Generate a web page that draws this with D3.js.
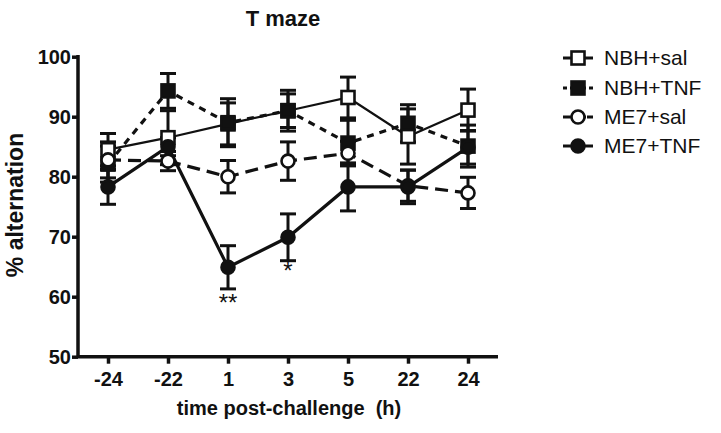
<!DOCTYPE html>
<html><head><meta charset="utf-8">
<script src="https://cdn.jsdelivr.net/npm/d3@7"></script>
<style>body{margin:0;background:#fff}svg{display:block}text{font-family:"Liberation Sans",Arial,sans-serif;fill:#111}</style>
</head><body><svg id="c" width="721" height="433"></svg>
<script>
const categories = ["-24","-22","1","3","5","22","24"];
const yTicks = [50,60,70,80,90,100];
const seriesNames = ["NBH+sal","NBH+TNF","ME7+sal","ME7+TNF"];
const nbhSal = [84.5, 86.5, 88.8, 91.0, 93.2, 86.7, 91.1];
const nbhSalErr = [2.7, 4.5, 3.5, 2.8, 3.4, 4.6, 3.5];
const nbhTnf = [82.1, 94.3, 89.0, 91.0, 85.6, 88.9, 85.1];
const nbhTnfErr = [3.0, 2.9, 4.0, 3.4, 3.8, 3.1, 3.5];
const me7Sal = [82.8, 82.6, 80.0, 82.6, 83.9, 78.5, 77.3];
const me7SalErr = [3.0, 1.6, 2.7, 3.2, 2.0, 2.6, 2.6];
const me7Tnf = [78.3, 85.0, 64.9, 69.9, 78.3, 78.3, 84.9];
const me7TnfErr = [2.9, 1.5, 3.6, 3.9, 4.0, 2.8, 2.8];
const annotations = [{cat:"1", text:"**", val:57.6},{cat:"3", text:"*", val:63.0}];

const svg = d3.select("#c");
const x = d3.scalePoint().domain(categories).range([78, 498]).padding(0.5);
const y = d3.scaleLinear().domain([50,100]).range([356.7, 56.7]);

const series = [
  {name:seriesNames[0], vals:nbhSal, err:nbhSalErr, shape:"square", fill:"#fff", dash:null, lw:2.2},
  {name:seriesNames[1], vals:nbhTnf, err:nbhTnfErr, shape:"square", fill:"#111", dash:"7,6", lw:3.2},
  {name:seriesNames[2], vals:me7Sal, err:me7SalErr, shape:"circle", fill:"#fff", dash:"13,7", lw:3.2},
  {name:seriesNames[3], vals:me7Tnf, err:me7TnfErr, shape:"circle", fill:"#111", dash:null, lw:3.2}
];

function drawMarker(g, shape, fill, cx, cy, size) {
  if (shape === "square") {
    g.append("rect").attr("x", cx-size/2).attr("y", cy-size/2).attr("width", size).attr("height", size)
      .attr("fill", fill).attr("stroke","#111").attr("stroke-width",2.6);
  } else {
    g.append("circle").attr("cx", cx).attr("cy", cy).attr("r", size/2)
      .attr("fill", fill).attr("stroke","#111").attr("stroke-width",2.6);
  }
}

series.forEach(s => {
  const g = svg.append("g");
  categories.forEach((c,i) => {
    const cx = x(c), hi = y(s.vals[i]+s.err[i]), lo = y(s.vals[i]-s.err[i]);
    g.append("line").attr("x1",cx).attr("x2",cx).attr("y1",hi).attr("y2",lo).attr("stroke","#111").attr("stroke-width",3);
    [hi,lo].forEach(yy => g.append("line").attr("x1",cx-8).attr("x2",cx+8).attr("y1",yy).attr("y2",yy).attr("stroke","#111").attr("stroke-width",3));
  });
});
series.forEach(s => {
  const line = d3.line().x((d,i)=>x(categories[i])).y(d=>y(d));
  svg.append("path").datum(s.vals).attr("d", line).attr("fill","none").attr("stroke","#111")
    .attr("stroke-width", s.lw).attr("stroke-dasharray", s.dash);
});
series.forEach(s => {
  const g = svg.append("g");
  s.vals.forEach((v,i) => drawMarker(g, s.shape, s.fill, x(categories[i]), y(v), 13));
});

const yAxis = d3.axisLeft(y).tickValues(yTicks).tickSize(6).tickPadding(1);
const ya = svg.append("g").attr("transform","translate(78,0)").call(yAxis);
const xAxis = d3.axisBottom(x).tickSize(7).tickPadding(8);
const xa = svg.append("g").attr("transform","translate(0,356.7)").call(xAxis);
[ya,xa].forEach(a => {
  a.select(".domain").attr("stroke","#111").attr("stroke-width",3.5);
  a.selectAll(".tick line").attr("stroke","#111").attr("stroke-width",3.5);
  a.selectAll(".tick text").attr("font-size",20).attr("font-weight","bold").attr("fill","#111")
    .style("font-family","'Liberation Sans',Arial,sans-serif");
});
ya.select(".domain").attr("d","M0,356.7V55");
xa.select(".domain").attr("d","M78,0H498");
ya.selectAll(".tick text").attr("dy","0.35em");

annotations.forEach(a => svg.append("text").attr("x", x(a.cat)).attr("y", y(a.val)).attr("text-anchor","middle")
  .attr("font-size",24).text(a.text));

svg.append("text").attr("x",283).attr("y",26).attr("text-anchor","middle").attr("font-size",22).attr("font-weight","bold").text("T maze");
svg.append("text").attr("transform","translate(23,205) rotate(-90)").attr("text-anchor","middle").attr("font-size",23).attr("font-weight","bold").text("% alternation");
svg.append("text").attr("x",289).attr("y",415).attr("text-anchor","middle").attr("font-size",20).attr("font-weight","bold").attr("xml:space","preserve").text("time post-challenge  (h)");

const legY = [58, 88, 117, 146];
series.forEach((s,i) => {
  const g = svg.append("g");
  const ly = legY[i];
  g.append("line").attr("x1",563).attr("x2",593).attr("y1",ly).attr("y2",ly).attr("stroke","#111").attr("stroke-width",3)
    .attr("stroke-dasharray", s.dash ? (i===1?"4,3,16,3,4":"8,1,14,1,8") : null);
  drawMarker(g, s.shape, s.fill, 578, ly, 13);
  g.append("text").attr("x",604).attr("y",ly+7).attr("font-size",21).text(s.name);
});
</script></body></html>
